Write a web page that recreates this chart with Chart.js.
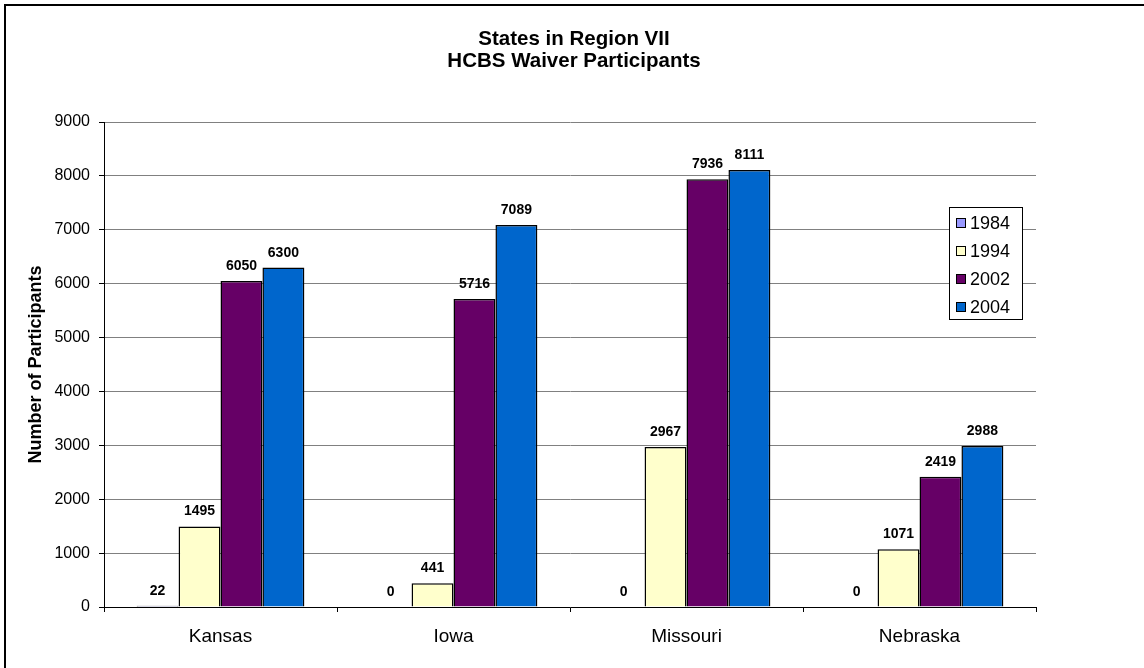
<!DOCTYPE html>
<html>
<head>
<meta charset="utf-8">
<title>HCBS Waiver Participants</title>
<script src="https://cdn.jsdelivr.net/npm/chart.js@4.4.0/dist/chart.umd.min.js"></script>
<style>
  html, body { margin: 0; padding: 0; background: #fff; }
  canvas { display: block; }
</style>
</head>
<body>
<canvas id="waiverChart" width="1144" height="668"></canvas>
<script>
// States and participant counts per year
const states = ['Kansas', 'Iowa', 'Missouri', 'Nebraska'];
const years = ['1984', '1994', '2002', '2004'];
const p1984 = [22, 0, 0, 0];
const p1994 = [1495, 441, 2967, 1071];
const p2002 = [6050, 5716, 7936, 2419];
const p2004 = [6300, 7089, 8111, 2988];
const titleLines = ['States in Region VII', 'HCBS Waiver Participants'];

const colors = ['#9999FF', '#FFFFCC', '#660066', '#0066CC'];
const series = [p1984, p1994, p2002, p2004];
const FONT = '"Liberation Sans", Arial, sans-serif';

// frame, title, value labels and legend box
const decorations = {
    id: 'decorations',
    beforeDraw(chart) {
        const c = chart.ctx;
        c.save();
        c.fillStyle = '#000';
        c.fillRect(4, 4, 2, chart.height);
        c.fillRect(4, 4, chart.width, 2);
        c.font = 'bold 20.5px ' + FONT;
        c.textAlign = 'center';
        c.textBaseline = 'middle';
        c.fillText(titleLines[0], 574, 39);
        c.fillText(titleLines[1], 574, 61);
        c.restore();
    },
    afterDatasetsDraw(chart) {
        const c = chart.ctx;
        c.save();
        c.font = 'bold 14px ' + FONT;
        c.fillStyle = '#000';
        c.textAlign = 'center';
        c.textBaseline = 'alphabetic';
        chart.data.datasets.forEach((ds, i) => {
            chart.getDatasetMeta(i).data.forEach((bar, j) => {
                c.fillText(String(ds.data[j]), bar.x, bar.y - 11);
            });
        });

        // legend
        const lx = 949, ly = 207, lw = 73, lh = 112;
        c.fillStyle = '#fff';
        c.fillRect(lx, ly, lw, lh);
        c.strokeStyle = '#000';
        c.lineWidth = 1;
        c.strokeRect(lx + 0.5, ly + 0.5, lw, lh);
        c.font = '18px ' + FONT;
        c.textAlign = 'left';
        c.textBaseline = 'middle';
        chart.data.datasets.forEach((ds, i) => {
            const cy = 223 + i * 28;
            c.fillStyle = ds.backgroundColor;
            c.fillRect(956, cy - 5, 10, 10);
            c.strokeRect(956.5, cy - 4.5, 9, 9);
            c.fillStyle = '#000';
            c.fillText(ds.label, 970, cy + 1);
        });
        c.restore();
    }
};

new Chart(document.getElementById('waiverChart').getContext('2d'), {
    type: 'bar',
    data: {
        labels: states,
        datasets: years.map((y, i) => ({
            label: y,
            data: series[i],
            backgroundColor: colors[i],
            borderColor: '#000',
            borderWidth: 1.5,
            borderSkipped: 'start',
            barPercentage: 1,
            categoryPercentage: 0.72
        }))
    },
    options: {
        responsive: false,
        animation: false,
        devicePixelRatio: 1,
        layout: { padding: { top: 122, right: 108, bottom: 0, left: 0 } },
        plugins: {
            legend: { display: false },
            title: { display: false },
            tooltip: { enabled: false }
        },
        scales: {
            x: {
                afterFit(scale) { scale.height = 61; },
                grid: {
                    display: true,
                    drawOnChartArea: false,
                    offset: true,
                    tickLength: 5,
                    tickColor: '#000'
                },
                border: { color: '#000' },
                ticks: {
                    color: '#000',
                    padding: 13,
                    font: { family: FONT, size: 19 }
                }
            },
            y: {
                min: 0,
                max: 9000,
                afterFit(scale) { scale.width = 104; },
                ticks: {
                    stepSize: 1000,
                    color: '#000',
                    padding: 9,
                    font: { family: FONT, size: 16 },
                    callback: v => String(v)
                },
                grid: {
                    color: '#808080',
                    tickLength: 5,
                    tickColor: '#000'
                },
                border: { color: '#000' },
                title: {
                    display: true,
                    text: 'Number of Participants',
                    color: '#000',
                    padding: { top: 25, bottom: 0 },
                    font: { family: FONT, size: 18, weight: 'bold' }
                }
            }
        }
    },
    plugins: [decorations]
});
</script>
</body>
</html>
